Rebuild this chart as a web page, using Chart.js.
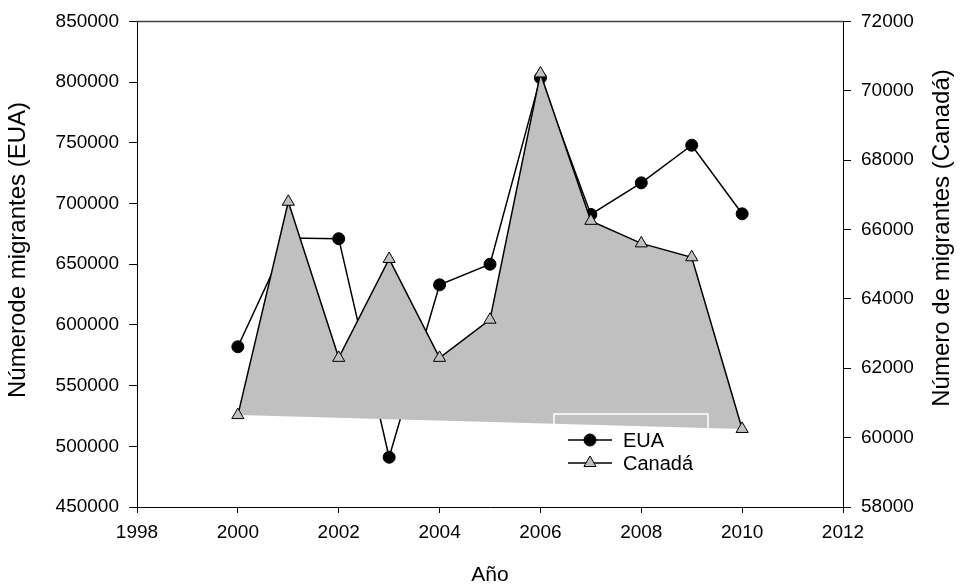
<!DOCTYPE html>
<html>
<head>
<meta charset="utf-8">
<script src="https://cdn.jsdelivr.net/npm/chart.js@4/dist/chart.umd.min.js"></script>
<style>
  html, body { margin: 0; padding: 0; background: #fff; }
  #wrap { width: 960px; height: 587px; }
</style>
</head>
<body>
<div id="wrap"><canvas id="c" width="960" height="587"></canvas></div>
<script>
// Migrants per year: United States (left axis) and Canada (right axis)
const years = [2000, 2001, 2002, 2003, 2004, 2005, 2006, 2007, 2008, 2009, 2010];
const euaMigrants = [582000, 671500, 671000, 491000, 633000, 650000, 803500, 691000, 717000, 748000, 691500];
const canadaMigrants = [60650, 66800, 62300, 65150, 62300, 63400, 70500, 66250, 65600, 65200, 60250];

const yearTicks = [1998, 2000, 2002, 2004, 2006, 2008, 2010, 2012];
const euaTicks = [450000, 500000, 550000, 600000, 650000, 700000, 750000, 800000, 850000];
const canadaTicks = [58000, 60000, 62000, 64000, 66000, 68000, 70000, 72000];

const seriesNames = ['EUA', 'Canadá'];
const xTitle = 'Año';
const leftTitle = 'Númerode migrantes (EUA)';
const rightTitle = 'Número de migrantes (Canadá)';

const FONT = "'Liberation Sans', Arial, Helvetica, sans-serif";
const AREA_GREY = '#c0c0c0';

const toPoints = (vals) => years.map((x, i) => ({ x, y: vals[i] }));

// Closed grey polygon under the Canada line (last point joined back to the first)
const areaPlugin = {
  id: 'canadaArea',
  beforeDatasetDraw(chart, args) {
    if (args.index !== 1) return;
    const pts = chart.getDatasetMeta(1).data;
    const ctx = chart.ctx;
    ctx.save();
    ctx.beginPath();
    pts.forEach((p, i) => (i ? ctx.lineTo(p.x, p.y) : ctx.moveTo(p.x, p.y)));
    ctx.closePath();
    ctx.fillStyle = AREA_GREY;
    ctx.fill();
    ctx.restore();
  }
};

// Frame top line, axis titles and the legend box
const decorPlugin = {
  id: 'decor',
  afterDraw(chart) {
    const { ctx, chartArea: a } = chart;
    ctx.save();
    ctx.strokeStyle = '#404040';
    ctx.lineWidth = 1.5;
    ctx.beginPath();
    ctx.moveTo(a.left, a.top);
    ctx.lineTo(a.right, a.top);
    ctx.stroke();

    ctx.fillStyle = '#000';
    ctx.textAlign = 'center';
    ctx.textBaseline = 'middle';
    ctx.font = '21px ' + FONT;
    ctx.fillText(xTitle, (a.left + a.right) / 2, 575);

    ctx.font = '24px ' + FONT;
    ctx.save();
    ctx.translate(18, 250);
    ctx.rotate(-Math.PI / 2);
    ctx.fillText(leftTitle, 0, 0);
    ctx.restore();

    ctx.save();
    ctx.translate(942, 238);
    ctx.rotate(-Math.PI / 2);
    ctx.fillText(rightTitle, 0, 0);
    ctx.restore();

    // legend
    ctx.strokeStyle = '#ffffff';
    ctx.lineWidth = 1.5;
    ctx.strokeRect(554, 414, 154, 72);

    const rows = [440, 463];
    const styles = [
      { pointStyle: 'circle', radius: 6, fill: '#000' },
      { pointStyle: 'triangle', radius: 7, fill: AREA_GREY }
    ];
    rows.forEach((y, i) => {
      ctx.strokeStyle = '#000';
      ctx.lineWidth = 1.5;
      ctx.beginPath();
      ctx.moveTo(568, y);
      ctx.lineTo(612, y);
      ctx.stroke();
      ctx.fillStyle = styles[i].fill;
      ctx.lineWidth = 1;
      Chart.helpers.drawPoint(ctx, { pointStyle: styles[i].pointStyle, radius: styles[i].radius, rotation: 0, borderWidth: 1 }, 590, y);
      ctx.fillStyle = '#000';
      ctx.font = '20px ' + FONT;
      ctx.textAlign = 'left';
      ctx.textBaseline = 'middle';
      ctx.fillText(seriesNames[i], 623, y + 1);
    });
    ctx.restore();
  }
};

const tickFont = { family: FONT, size: 19 };
const plain = (v) => String(v);

new Chart(document.getElementById('c'), {
  type: 'line',
  data: {
    datasets: [
      {
        label: seriesNames[0],
        data: toPoints(euaMigrants),
        yAxisID: 'y',
        order: 2,
        borderColor: '#000',
        borderWidth: 1.5,
        pointStyle: 'circle',
        pointRadius: 6,
        pointBackgroundColor: '#000',
        pointBorderColor: '#000',
        pointBorderWidth: 1,
        fill: false,
        tension: 0
      },
      {
        label: seriesNames[1],
        data: toPoints(canadaMigrants),
        yAxisID: 'y1',
        order: 1,
        borderColor: '#000',
        borderWidth: 1.5,
        pointStyle: 'triangle',
        pointRadius: 7,
        pointBackgroundColor: AREA_GREY,
        pointBorderColor: '#000',
        pointBorderWidth: 1,
        fill: false,
        tension: 0
      }
    ]
  },
  options: {
    responsive: false,
    devicePixelRatio: 1,
    animation: false,
    layout: { padding: { top: 17, left: 0, right: 0, bottom: 0 } },
    plugins: { legend: { display: false }, tooltip: { enabled: false } },
    scales: {
      x: {
        type: 'linear',
        min: yearTicks[0],
        max: yearTicks[yearTicks.length - 1],
        afterBuildTicks: (s) => { s.ticks = yearTicks.map((value) => ({ value })); },
        ticks: { font: tickFont, color: '#000', padding: 8, callback: plain, maxRotation: 0 },
        grid: { drawOnChartArea: false, drawTicks: true, tickLength: 6, color: '#000', lineWidth: 1 },
        border: { display: true, color: '#000', width: 1 },
        afterFit: (s) => { s.height = 80; }
      },
      y: {
        type: 'linear',
        position: 'left',
        min: euaTicks[0],
        max: euaTicks[euaTicks.length - 1],
        afterBuildTicks: (s) => { s.ticks = euaTicks.map((value) => ({ value })); },
        ticks: { font: tickFont, color: '#000', padding: 10, callback: plain },
        grid: { drawOnChartArea: false, drawTicks: true, tickLength: 8, color: '#000', lineWidth: 1 },
        border: { display: true, color: '#000', width: 1 },
        afterFit: (s) => { s.width = 137; }
      },
      y1: {
        type: 'linear',
        position: 'right',
        min: canadaTicks[0],
        max: canadaTicks[canadaTicks.length - 1],
        afterBuildTicks: (s) => { s.ticks = canadaTicks.map((value) => ({ value })); },
        ticks: { font: tickFont, color: '#000', padding: 10, callback: plain },
        grid: { drawOnChartArea: false, drawTicks: true, tickLength: 8, color: '#000', lineWidth: 1 },
        border: { display: true, color: '#000', width: 1 },
        afterFit: (s) => { s.width = 117; }
      }
    }
  },
  plugins: [areaPlugin, decorPlugin]
});
</script>
</body>
</html>
